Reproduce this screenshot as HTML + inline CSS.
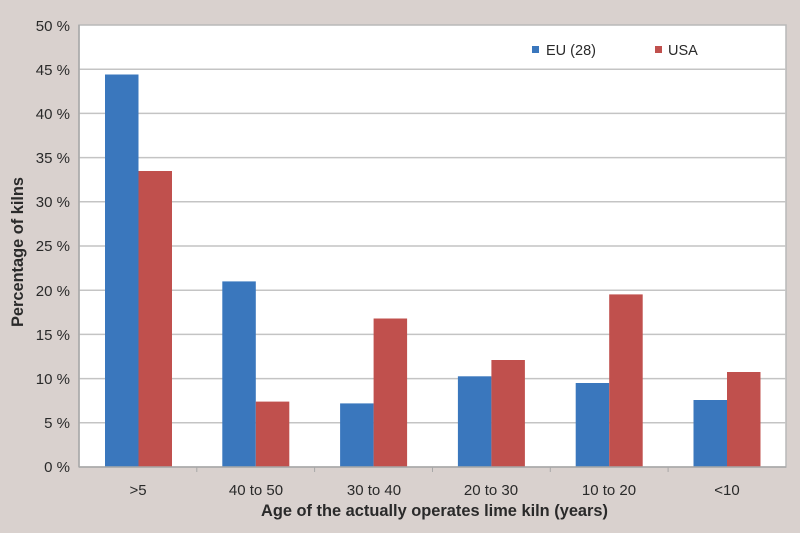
<!DOCTYPE html>
<html><head><meta charset="utf-8"><style>
html,body{margin:0;padding:0;background:#d9d1ce;}
svg{display:block;}
text{font-family:"Liberation Sans",sans-serif;fill:#2a2a2a;}
</style></head><body>
<svg width="800" height="533" viewBox="0 0 800 533" xmlns="http://www.w3.org/2000/svg">
<rect x="0" y="0" width="800" height="533" fill="#d9d1ce"/>
<rect x="79" y="25" width="707" height="442" fill="#ffffff" stroke="#b9b9b9" stroke-width="1.5"/>
<g stroke="#c4c4c4" stroke-width="1.5">
<line x1="79" y1="69.2" x2="786" y2="69.2"/>
<line x1="79" y1="113.4" x2="786" y2="113.4"/>
<line x1="79" y1="157.6" x2="786" y2="157.6"/>
<line x1="79" y1="201.8" x2="786" y2="201.8"/>
<line x1="79" y1="246" x2="786" y2="246"/>
<line x1="79" y1="290.2" x2="786" y2="290.2"/>
<line x1="79" y1="334.4" x2="786" y2="334.4"/>
<line x1="79" y1="378.6" x2="786" y2="378.6"/>
<line x1="79" y1="422.8" x2="786" y2="422.8"/>
</g>
<g fill="#3a77bd">
<rect x="105" y="74.5" width="33.5" height="392.5"/>
<rect x="222.3" y="281.4" width="33.5" height="185.6"/>
<rect x="340.1" y="403.4" width="33.5" height="63.6"/>
<rect x="457.9" y="376.3" width="33.5" height="90.7"/>
<rect x="575.7" y="383" width="33.5" height="84"/>
<rect x="693.5" y="400" width="33.5" height="67"/>
</g>
<g fill="#c0504d">
<rect x="138.5" y="171" width="33.5" height="296"/>
<rect x="255.8" y="401.6" width="33.5" height="65.4"/>
<rect x="373.6" y="318.5" width="33.5" height="148.5"/>
<rect x="491.4" y="360" width="33.5" height="107"/>
<rect x="609.2" y="294.4" width="33.5" height="172.6"/>
<rect x="727" y="372" width="33.5" height="95"/>
</g>
<line x1="79" y1="467" x2="786" y2="467" stroke="#a8a8a8" stroke-width="1.5"/>
<line x1="79" y1="25" x2="79" y2="467" stroke="#a8a8a8" stroke-width="1.5"/>
<g stroke="#a8a8a8" stroke-width="1">
<line x1="196.8" y1="467" x2="196.8" y2="472"/>
<line x1="314.6" y1="467" x2="314.6" y2="472"/>
<line x1="432.5" y1="467" x2="432.5" y2="472"/>
<line x1="550.3" y1="467" x2="550.3" y2="472"/>
<line x1="668.1" y1="467" x2="668.1" y2="472"/>
</g>
<g font-size="15" text-anchor="end">
<text x="70" y="31">50 %</text>
<text x="70" y="75">45 %</text>
<text x="70" y="119">40 %</text>
<text x="70" y="163">35 %</text>
<text x="70" y="207">30 %</text>
<text x="70" y="251">25 %</text>
<text x="70" y="296">20 %</text>
<text x="70" y="340">15 %</text>
<text x="70" y="384">10 %</text>
<text x="70" y="428">5 %</text>
<text x="70" y="472">0 %</text>
</g>
<g font-size="15" text-anchor="middle">
<text x="138" y="495">&gt;5</text>
<text x="256" y="495">40 to 50</text>
<text x="374" y="495">30 to 40</text>
<text x="491" y="495">20 to 30</text>
<text x="609" y="495">10 to 20</text>
<text x="727" y="495">&lt;10</text>
</g>
<text x="261" y="516" font-size="16.5" font-weight="bold" textLength="347" lengthAdjust="spacingAndGlyphs">Age of the actually operates lime kiln (years)</text>
<text transform="translate(23,327) rotate(-90)" font-size="16.5" font-weight="bold" textLength="150" lengthAdjust="spacingAndGlyphs">Percentage of kilns</text>
<rect x="532" y="46" width="7" height="7" fill="#3a77bd"/>
<text x="546" y="55" font-size="14.5">EU (28)</text>
<rect x="655" y="46" width="7" height="7" fill="#c0504d"/>
<text x="668" y="55" font-size="14.5">USA</text>
</svg>
</body></html>
